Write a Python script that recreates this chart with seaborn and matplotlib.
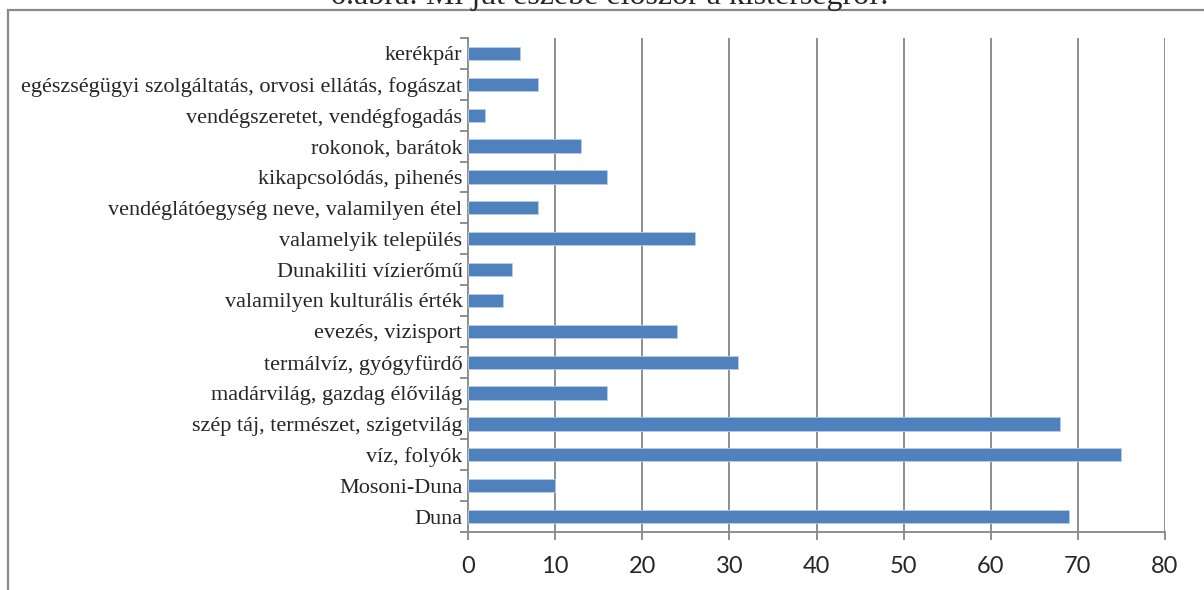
import pandas as pd
import matplotlib.pyplot as plt
import seaborn as sns
from matplotlib.patches import Rectangle

# adatok (felülről lefelé)
categories = [
    'kerékpár',
    'egészségügyi szolgáltatás, orvosi ellátás, fogászat',
    'vendégszeretet, vendégfogadás',
    'rokonok, barátok',
    'kikapcsolódás, pihenés',
    'vendéglátóegység neve, valamilyen étel',
    'valamelyik település',
    'Dunakiliti vízierőmű',
    'valamilyen kulturális érték',
    'evezés, vizisport',
    'termálvíz, gyógyfürdő',
    'madárvilág, gazdag élővilág',
    'szép táj, természet, szigetvilág',
    'víz, folyók',
    'Mosoni-Duna',
    'Duna',
]
counts = [6, 8, 2, 13, 16, 8, 26, 5, 4, 24, 31, 16, 68, 75, 10, 69]
x_ticks = [0, 10, 20, 30, 40, 50, 60, 70, 80]
title = '6.ábra: Mi jut eszébe először a kistérségről?'

df = pd.DataFrame({'kategoria': categories, 'db': counts})

sns.set_style('white')
plt.rcParams['font.family'] = ['Liberation Serif', 'DejaVu Serif']

fig = plt.figure(figsize=(12.04, 5.90), dpi=100)
ax = fig.add_axes([468 / 1204, 58 / 590, 697 / 1204, 494 / 590])

sns.barplot(data=df, x='db', y='kategoria', order=categories, orient='h',
            color='#4F81BD', saturation=1, width=0.43,
            edgecolor='#b9cde5', linewidth=0.6, ax=ax, zorder=3)

grid_c = '#868686'
ax.set_xlim(0, 80)
ax.set_ylim(len(categories) - 0.5, -0.5)
ax.set_xticks(x_ticks)
ax.set_xticklabels([str(t) for t in x_ticks], family=['Lato', 'DejaVu Sans'], fontsize=17)
for t in x_ticks[1:]:
    ax.axvline(t, color=grid_c, lw=1.3, zorder=1)

# y tengely: osztásjelek a kategóriák határán
ax.set_yticks([i - 0.5 for i in range(len(categories) + 1)], minor=False)
ax.set_yticklabels([])
ax.set_yticks(range(len(categories)), minor=True)
ax.set_yticklabels(categories, minor=True, fontsize=16)
ax.tick_params(axis='y', which='major', length=6, width=1.3, color=grid_c, direction='out', left=True)
ax.tick_params(axis='y', which='minor', length=0, pad=4, left=False)
ax.tick_params(axis='x', length=6, width=1.3, color=grid_c, direction='out', bottom=True, pad=11)

ax.set_xlabel('')
ax.set_ylabel('')
for side in ['top', 'right']:
    ax.spines[side].set_visible(False)
for side in ['left', 'bottom']:
    ax.spines[side].set_color(grid_c)
    ax.spines[side].set_linewidth(1.3)

# keret a diagram körül
fig.patches.append(Rectangle((8 / 1204, -0.1), 1.2, 1 - 9.5 / 590 + 0.1,
                             transform=fig.transFigure, fill=False,
                             edgecolor='#898989', lw=1.6))

# levágott cím a kép tetején
fig.text(611 / 1204, 1 - 4 / 590, title, ha='center', va='baseline',
         fontsize=23)

fig.savefig('out.png', dpi=100)
